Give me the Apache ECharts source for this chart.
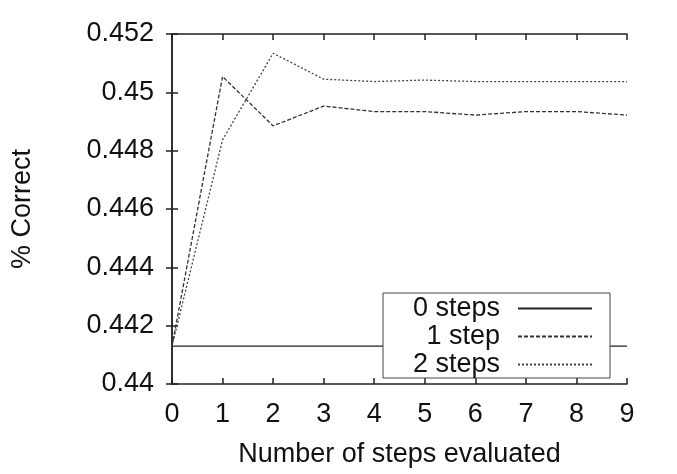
<!DOCTYPE html>
<html>
<head>
<meta charset="utf-8">
<script src="https://cdn.jsdelivr.net/npm/echarts@6/dist/echarts.min.js"></script>
<style>html,body{margin:0;padding:0;background:#fff;}#c{width:677px;height:474px;}</style>
</head>
<body>
<div id="c"></div>
<script>
const steps = [0, 1, 2, 3, 4, 5, 6, 7, 8, 9];
const zeroSteps = [0.4413, 0.4413, 0.4413, 0.4413, 0.4413, 0.4413, 0.4413, 0.4413, 0.4413, 0.4413];
const oneStep = [0.4413, 0.45054, 0.44885, 0.44953, 0.44934, 0.44934, 0.44922, 0.44934, 0.44934, 0.44922];
const twoSteps = [0.4413, 0.44837, 0.45134, 0.45045, 0.45037, 0.45042, 0.45037, 0.45037, 0.45037, 0.45037];
const seriesNames = ['0 steps', '1 step', '2 steps'];

const font = 'Liberation Sans, Arial, sans-serif';
const pair = (vals) => steps.map((s, i) => [s, vals[i]]);

const chart = echarts.init(document.getElementById('c'));
const axisCommon = {
  axisLine: { show: true, lineStyle: { color: '#222', width: 1.5 } },
  axisTick: { show: true, inside: true, length: 6, lineStyle: { color: '#222', width: 1.5 } },
  splitLine: { show: false }
};
chart.setOption({
  animation: false,
  backgroundColor: '#fff',
  grid: { left: 172, right: 50, top: 34, bottom: 90, show: false },
  xAxis: [
    Object.assign({
      type: 'value', min: 0, max: 9, interval: 1,
      name: 'Number of steps evaluated', nameLocation: 'middle', nameGap: 57,
      nameTextStyle: { fontFamily: font, fontSize: 27, color: '#111' },
      axisLabel: { fontFamily: font, fontSize: 27, color: '#111', margin: 17 }
    }, axisCommon),
    Object.assign({
      type: 'value', min: 0, max: 9, interval: 1, position: 'top',
      axisLabel: { show: false }
    }, axisCommon)
  ],
  yAxis: [
    Object.assign({
      type: 'value', min: 0.44, max: 0.452, interval: 0.002,
      name: '% Correct', nameLocation: 'middle', nameGap: 136,
      nameTextStyle: { fontFamily: font, fontSize: 27, color: '#111' },
      axisLabel: { fontFamily: font, fontSize: 27, color: '#111', margin: 18,
        formatter: (v) => String(parseFloat(v.toFixed(3))) }
    }, axisCommon),
    Object.assign({
      type: 'value', min: 0.44, max: 0.452, interval: 0.002, position: 'right',
      axisLabel: { show: false }
    }, axisCommon)
  ],
  legend: {
    orient: 'vertical',
    left: 383, top: 293,
    align: 'right',
    padding: [2, 17, 0, 13],
    itemGap: 1,
    itemWidth: 74, itemHeight: 14,
    backgroundColor: '#fff',
    borderColor: '#444', borderWidth: 1, borderRadius: 0,
    itemStyle: { opacity: 0 },
    data: seriesNames,
    formatter: '{a|{name}}',
    textStyle: {
      rich: { a: { fontFamily: font, fontSize: 27, color: '#111', width: 104, align: 'right', lineHeight: 28, padding: [0, 13, 0, 0] } }
    }
  },
  series: [
    { name: seriesNames[0], type: 'line', data: pair(zeroSteps), symbol: 'none',
      lineStyle: { color: '#222', width: 1.1, type: 'solid' }, itemStyle: { color: '#222' }, z: 1 },
    { name: seriesNames[1], type: 'line', data: pair(oneStep), symbol: 'none',
      lineStyle: { color: '#333', width: 1.3, type: [4, 2] }, itemStyle: { color: '#333' }, z: 2 },
    { name: seriesNames[2], type: 'line', data: pair(twoSteps), symbol: 'none',
      lineStyle: { color: '#444', width: 1.3, type: [2, 2] }, itemStyle: { color: '#444' }, z: 2 }
  ]
});
</script>
</body>
</html>
